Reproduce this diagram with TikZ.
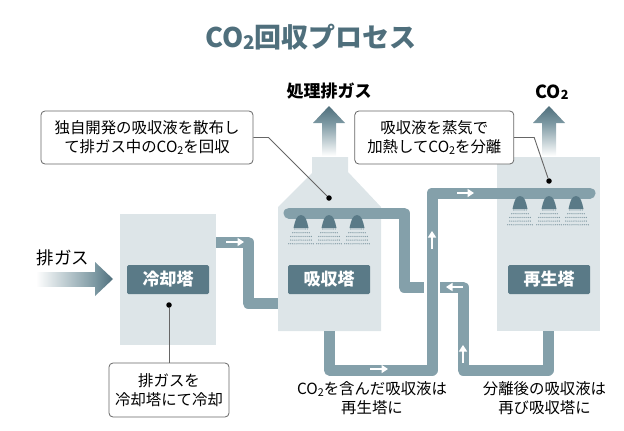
\documentclass[tikz,border=0pt]{standalone}
\usepackage{fontspec}
\setmainfont{Noto Sans CJK JP}
\usetikzlibrary{positioning, arrows.meta, calc}
\definecolor{towerfill}{HTML}{DDE5E8}
\definecolor{pipecol}{HTML}{84A0AA}
\definecolor{labelcol}{HTML}{5A7A87}
\definecolor{titlecol}{HTML}{4F6F7C}
\definecolor{fadecol}{HTML}{7C98A2}
\newcommand{\cotwo}{CO\raisebox{-0.08em}{\fontsize{0.7em}{0.7em}\selectfont 2}}
\tikzset{
	tower/.style={rectangle, fill=towerfill, minimum width=#1, outer sep=0pt, inner sep=0pt},
	tower label/.style={rectangle, rounded corners=1.5pt, fill=labelcol, text=white, minimum width=82pt, minimum height=29pt, inner sep=0pt, font=\fontsize{17}{17}\selectfont\bfseries},
	pipe/.style={draw=pipecol, line width=11pt, line join=round},
	flow/.style={draw=white, line width=2.6pt, -{Triangle[length=6.5pt, width=8pt]}},
	callout/.style={rectangle, draw=black!60, fill=white, rounded corners=4pt, line width=0.8pt, inner sep=0pt, align=center, font=\fontsize{15.4}{19}\selectfont},
	leader/.style={draw=black!60, line width=0.9pt},
	dot/.style={circle, fill=black, minimum size=5.5pt, inner sep=0pt},
	caption/.style={align=center, inner sep=0pt, font=\fontsize{15.4}{19}\selectfont},
}
\begin{document}
\begin{tikzpicture}[x=1pt, y=-1pt]
	\useasboundingbox (0,0) rectangle (624,431);
	% Towers
	\node[tower=96pt, minimum height=131pt] (cooler) at (168,279.5) {};
	\fill[towerfill] (278,331) -- (278,207) -- (312,173) -- (312,157) -- (348,157) -- (348,172) -- (381,207) -- (381,331) -- cycle;
	\node[tower=103pt, minimum height=174pt] (regen) at (548.5,244) {};
	% Pipe ends
	\coordinate (coolout) at (216,242);
	\coordinate (absin) at (278,303);
	\coordinate (sprayA) at (289,213);
	\coordinate (crossA) at (424,287);
	\coordinate (absout) at (329.5,331);
	\coordinate (sprayB) at (590,193);
	\coordinate (regout) at (548,331);
	\coordinate (crossB) at (440,287);
	% Pipes
	\draw[pipe] (coolout) -| (248,303) -- (absin);
	\draw[pipe, line cap=round] (sprayA) -- (320,213);
	\draw[pipe] (320,213) -| (404,287) -- (crossA);
	\draw[pipe] (absout) |- (432,370) -- (432,193) -- (500,193);
	\draw[pipe, line cap=round] (480,193) -- (sprayB);
	\draw[pipe] (regout) |- (463,370) -- (463,287) -- (crossB);
	% Flow marks
	\draw[flow] (226,242) -- (244,242);
	\draw[flow] (370,369) -- (388,369);
	\draw[flow] (432,249) -- (432,231);
	\draw[flow] (457,193) -- (474,193);
	\draw[flow] (463,287) -- (446,287);
	\draw[flow] (463,363) -- (463,345);
	% Spray heads
	\foreach \sx/\sy in {301/215, 329/215, 357/215, 520/196, 549/196, 576/196} {
		\fill[labelcol] (\sx-7.5,\sy+13) .. controls (\sx-6,\sy+6) and (\sx-4.5,\sy) .. (\sx,\sy) .. controls (\sx+4.5,\sy) and (\sx+6,\sy+6) .. (\sx+7.5,\sy+13) -- cycle;
		\foreach \row/\ncol in {0/3, 1/4, 2/5, 3/5, 4/6} {
			\foreach \col in {-\ncol,...,\ncol} {
				\fill[labelcol!80] ({\sx+\col*2.05},{\sy+14+\row*3.7}) circle (0.65pt);
			}
		}
	}
	% Tower labels
	\node[tower label] (coollabel) at (cooler) {冷却塔};
	\node[tower label] (abslabel) at (329,279.5) {吸収塔};
	\node[tower label] (reglabel) at (549,279.5) {再生塔};
	% Gas arrows
	\shade[top color=titlecol, bottom color=fadecol] (329,106) -- (345,123) -- (313,123) -- cycle;
	\shade[top color=fadecol, bottom color=white] (322,123) rectangle (336,156);
	\shade[top color=titlecol, bottom color=fadecol] (549,106) -- (565,123) -- (533,123) -- cycle;
	\shade[top color=fadecol, bottom color=white] (542,123) rectangle (556,156);
	\shade[right color=titlecol, left color=fadecol] (113,279) -- (95,296) -- (95,262) -- cycle;
	\shade[right color=fadecol, left color=white] (36,272) rectangle (95,286);
	% Callouts
	\node[callout, minimum width=212pt, minimum height=53pt] (boxabs) at (147,137.5) {独自開発の吸収液を散布し\\て排ガス中の\cotwo を回収};
	\node[callout, minimum width=159pt, minimum height=53pt, right=101pt of boxabs] (boxreg) {吸収液を蒸気で\\加熱して\cotwo を分離};
	\node[callout, minimum width=120pt, minimum height=54pt] (boxcool) at (169,390) {排ガスを\\冷却塔にて冷却};
	\node[dot] (dotabs) at (329,198) {};
	\node[dot] (dotreg) at (549,181) {};
	\node[dot] (dotcool) at (169,305) {};
	\draw[leader] (boxabs.east) -- ++(15,0) -- (dotabs);
	\draw[leader] (boxreg.east) -- ++(20,0) -- (dotreg);
	\draw[leader] (boxcool.north) -- (dotcool);
	% Texts
	\node[font=\fontsize{27}{27}\selectfont\bfseries, text=titlecol, inner sep=0pt] (title) at (311,37) {\cotwo 回収プロセス};
	\node[font=\fontsize{17}{17}\selectfont\bfseries, inner sep=0pt] (treated) at (329,91) {処理排ガス};
	\node[font=\fontsize{18}{18}\selectfont\bfseries, inner sep=0pt] (coout) at (552,92) {\cotwo};
	\node[font=\fontsize{17.5}{17.5}\selectfont, inner sep=0pt] (gasin) at (63,258) {排ガス};
	\node[caption] (capleft) at (372,398.5) {\cotwo を含んだ吸収液は\\再生塔に};
	\node[caption] (capright) at (544.5,398.5) {分離後の吸収液は\\再び吸収塔に};
\end{tikzpicture}
\end{document}
